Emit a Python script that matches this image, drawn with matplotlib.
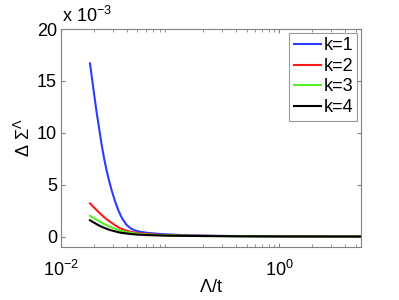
import matplotlib
matplotlib.use("Agg")
import matplotlib.pyplot as plt
import numpy as np

plt.rcParams['font.family'] = ['Liberation Sans', 'DejaVu Sans']
plt.rcParams['mathtext.fontset'] = 'custom'
plt.rcParams['mathtext.rm'] = 'Liberation Sans'
plt.rcParams['mathtext.it'] = 'Liberation Sans'

# Lambda/t values and Delta Sigma^Lambda (in units of 1e-3)
lam_k1 = [0.0184, 0.0194, 0.0204, 0.0213, 0.0222, 0.0231, 0.0240, 0.0250, 0.0261, 0.0275,
          0.0290, 0.0310, 0.0334, 0.0360, 0.0398, 0.0440, 0.0480, 0.0526, 0.060, 0.070,
          0.085, 0.10, 0.122, 0.16, 0.2, 0.3, 0.5, 1.0, 2.0, 5.6]
sig_k1 = [16.7, 14.9, 13.2, 11.8, 10.6, 9.4, 8.35, 7.35, 6.4, 5.4,
          4.5, 3.5, 2.56, 1.8, 1.12, 0.75, 0.57, 0.47, 0.37, 0.30,
          0.23, 0.19, 0.15, 0.11, 0.09, 0.06, 0.04, 0.02, 0.01, 0.0]

lam_k2 = [0.0184, 0.0205, 0.0227, 0.0252, 0.0280, 0.0312, 0.0346, 0.0385, 0.0427, 0.050,
          0.0607, 0.080, 0.10, 0.15, 0.3, 1.0, 5.6]
sig_k2 = [3.2, 2.7, 2.24, 1.8, 1.44, 1.1, 0.80, 0.62, 0.47, 0.34,
          0.25, 0.17, 0.12, 0.08, 0.05, 0.02, 0.0]

lam_k3 = [0.0184, 0.0205, 0.0227, 0.0252, 0.0280, 0.0312, 0.0346, 0.040, 0.0455, 0.055,
          0.07, 0.09, 0.12, 0.2, 0.4, 1.0, 5.6]
sig_k3 = [2.0, 1.7, 1.44, 1.18, 0.95, 0.75, 0.57, 0.42, 0.32, 0.22,
          0.16, 0.11, 0.08, 0.05, 0.03, 0.01, 0.0]

lam_k4 = [0.0184, 0.0205, 0.0227, 0.0252, 0.0280, 0.0312, 0.0346, 0.040, 0.0455, 0.055,
          0.07, 0.09, 0.12, 0.2, 0.4, 1.0, 5.6]
sig_k4 = [1.57, 1.28, 1.02, 0.81, 0.63, 0.50, 0.38, 0.29, 0.22, 0.16,
          0.12, 0.09, 0.07, 0.045, 0.025, 0.01, 0.0]

labels = ['k=1', 'k=2', 'k=3', 'k=4']
colors = ['#2b3cff', '#ff1a1a', '#55ee22', '#000000']
ytick_vals = [0, 5, 10, 15, 20]

fs = 13

fig = plt.figure(figsize=(3.99, 3.0), dpi=100)
ax = fig.add_axes([0.153, 0.177, 0.752, 0.726])

series = [(lam_k1, sig_k1), (lam_k2, sig_k2), (lam_k3, sig_k3), (lam_k4, sig_k4)]
for (x, y), c, lab in zip(series, colors, labels):
    ax.plot(x, np.array(y) * 1e-3, color=c, lw=1.5, label=lab)

ax.set_xscale('log')
ax.set_xlim(0.01, 5.6)
ax.set_ylim(-1e-3, 20e-3)
ax.set_yticks([v * 1e-3 for v in ytick_vals])
ax.set_yticklabels([str(v) for v in ytick_vals])
ax.set_xticks([1e-2, 1e0])
ax.set_xticklabels([r'$10^{-2}$', r'$10^{0}$'])

for s in ax.spines.values():
    s.set_color('#808080')
    s.set_linewidth(0.8)
ax.tick_params(which='both', direction='in', top=True, right=True, color='#808080',
               labelsize=fs, labelcolor='black')
ax.tick_params(which='major', length=3, pad=3)
ax.tick_params(which='minor', length=2)
ax.tick_params(axis='x', pad=9)

fig.text(0.156, 0.915, r'x $10^{-3}$', fontsize=fs, ha='left', va='bottom')

ax.set_xlabel(r'$\Lambda$/t', fontsize=fs, labelpad=0)
ax.set_ylabel(r'$\Delta\ \Sigma^{\Lambda}$', fontsize=fs, labelpad=2)

leg = ax.legend(loc='upper right', fontsize=fs, frameon=True, fancybox=False,
                handlelength=1.5, handletextpad=0.15, borderpad=0.25, labelspacing=0.2,
                borderaxespad=0.2)
leg.get_frame().set_edgecolor('#808080')
leg.get_frame().set_linewidth(0.8)

fig.savefig('out.png', dpi=100)
